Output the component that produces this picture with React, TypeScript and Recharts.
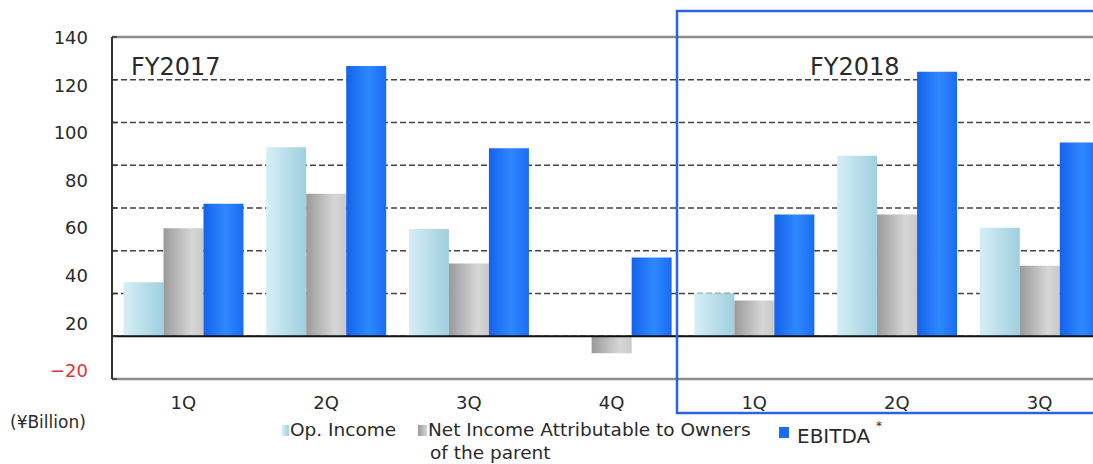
import React from "react";
import {
  BarChart,
  Bar,
  XAxis,
  YAxis,
  CartesianGrid,
  ReferenceLine,
} from "recharts";

// Quarterly results, ¥ billion
const quarters = ["1Q", "2Q", "3Q", "4Q", "1Q", "2Q", "3Q"];
const opIncome = [25.3, 88.4, 50.2, 0, 20.1, 84.5, 50.8];
const netIncome = [50.5, 66.7, 34.0, -7.9, 16.7, 57.0, 33.0];
const ebitda = [62.0, 126.4, 88.0, 36.9, 57.0, 123.7, 90.7];

const yTicks = [140, 120, 100, 80, 60, 40, 20, 0, -20];
const yLabels = [140, 120, 100, 80, 60, 40, 20, -20];
const fiscalYears = ["FY2017", "FY2018"];

const data = quarters.map((q, i) => ({
  quarter: q,
  op: opIncome[i],
  net: netIncome[i],
  ebitda: ebitda[i],
}));

const FONT = "'DejaVu Sans', Verdana, sans-serif";
const TEXT = "#2a2a2a";

function YTick(props: any) {
  const { y, payload } = props;
  const v = payload.value as number;
  const idx = yLabels.indexOf(v);
  return (
    <g>
      <line x1={112} x2={117} y1={y} y2={y} stroke="#333" strokeWidth={1.5} />
      {idx >= 0 && (
        <text
          x={88}
          y={44 + idx * 47.6}
          textAnchor="end"
          fontSize={18}
          fontFamily={FONT}
          fill={v < 0 ? "#e0323c" : TEXT}
        >
          {v < 0 ? `\u2212${-v}` : v}
        </text>
      )}
    </g>
  );
}

function XTick(props: any) {
  const { x, payload } = props;
  return (
    <text x={x} y={409} textAnchor="middle" fontSize={18} fontFamily={FONT} fill={TEXT}>
      {payload.value}
    </text>
  );
}

function Gradients() {
  return (
    <defs>
      <linearGradient id="gradOp" x1="0" y1="0" x2="1" y2="0">
        <stop offset="0%" stopColor="#d6eff6" />
        <stop offset="100%" stopColor="#9fcfdf" />
      </linearGradient>
      <linearGradient id="gradNet" x1="0" y1="0" x2="1" y2="0">
        <stop offset="0%" stopColor="#9a9a9a" />
        <stop offset="70%" stopColor="#d6d6d6" />
        <stop offset="100%" stopColor="#c9c9c9" />
      </linearGradient>
      <linearGradient id="gradEbitda" x1="0" y1="0" x2="1" y2="0">
        <stop offset="0%" stopColor="#1462ea" />
        <stop offset="55%" stopColor="#2f88ff" />
        <stop offset="100%" stopColor="#1a6cf2" />
      </linearGradient>
    </defs>
  );
}

export default function App() {
  return (
    <div
      style={{
        position: "absolute",
        left: 0,
        top: 0,
        width: 1093,
        height: 464,
        overflow: "hidden",
        background: "#fff",
        fontFamily: FONT,
      }}
    >
      <BarChart
        width={1130}
        height={464}
        data={data}
        margin={{ top: 37, right: 19, bottom: 55, left: 0 }}
        barCategoryGap={11.5}
        barGap={0}
      >
        <Gradients />
        <CartesianGrid vertical={false} stroke="#444" strokeWidth={1.5} strokeDasharray="6 3" />
        <XAxis
          dataKey="quarter"
          height={30}
          axisLine={{ stroke: "#8c8c8c", strokeWidth: 2.5 }}
          tickLine={false}
          tick={<XTick />}
        />
        <YAxis
          width={112}
          domain={[-20, 140]}
          ticks={yTicks}
          interval={0}
          axisLine={{ stroke: "#333", strokeWidth: 2 }}
          tickLine={false}
          tick={<YTick />}
        />
        <Bar dataKey="op" name="Op. Income" fill="url(#gradOp)" isAnimationActive={false} />
        <Bar
          dataKey="net"
          name="Net Income Attributable to Owners of the parent"
          fill="url(#gradNet)"
          isAnimationActive={false}
        />
        <Bar dataKey="ebitda" name="EBITDA" fill="url(#gradEbitda)" isAnimationActive={false} />
        <ReferenceLine y={140} stroke="#8c8c8c" strokeWidth={2.5} />
        <ReferenceLine y={0} stroke="#111" strokeWidth={2} />
      </BarChart>

      <svg
        width={1093}
        height={464}
        style={{ position: "absolute", left: 0, top: 0, pointerEvents: "none" }}
        fontFamily={FONT}
      >
        <defs>
          <linearGradient id="legOp" x1="0" y1="0" x2="1" y2="0">
            <stop offset="0%" stopColor="#d6eff6" />
            <stop offset="100%" stopColor="#9fcfdf" />
          </linearGradient>
          <linearGradient id="legNet" x1="0" y1="0" x2="1" y2="0">
            <stop offset="0%" stopColor="#9a9a9a" />
            <stop offset="100%" stopColor="#d6d6d6" />
          </linearGradient>
        </defs>

        {/* fiscal year captions and FY2018 frame */}
        <text x={131} y={75} fontSize={24} fill={TEXT}>
          {fiscalYears[0]}
        </text>
        <text x={810} y={75} fontSize={24} fill={TEXT}>
          {fiscalYears[1]}
        </text>
        <rect x={677} y={11} width={500} height={402} fill="none" stroke="#2d62e0" strokeWidth={2.5} />

        <text x={10} y={428} fontSize={17} fill={TEXT}>
          (¥Billion)
        </text>

        {/* legend */}
        <rect x={282} y={425} width={7} height={11} fill="url(#legOp)" />
        <text x={290} y={436} fontSize={18.5} fill={TEXT}>
          Op. Income
        </text>
        <rect x={418} y={425} width={9} height={11} fill="url(#legNet)" />
        <text x={428} y={436} fontSize={18.5} fill={TEXT}>
          Net Income Attributable to Owners
        </text>
        <text x={430} y={459} fontSize={18.5} fill={TEXT}>
          of the parent
        </text>
        <rect x={779} y={427} width={10} height={11} fill="#1a6cf2" />
        <text x={797} y={443} fontSize={20} fill={TEXT}>
          EBITDA
        </text>
        <text x={876} y={430} fontSize={12} fill={TEXT}>
          *
        </text>
      </svg>
    </div>
  );
}
